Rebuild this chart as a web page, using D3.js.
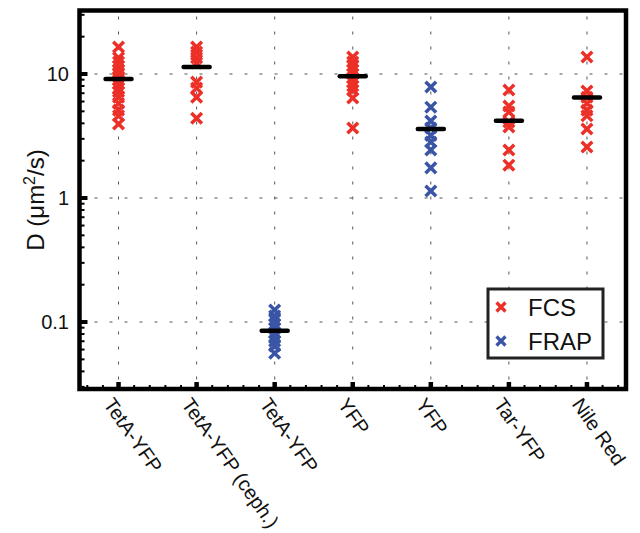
<!DOCTYPE html>
<html>
<head>
<meta charset="utf-8">
<script src="https://cdn.jsdelivr.net/npm/d3@7"></script>
<style>
  body { margin: 0; background: #fff; }
  text { font-family: "Liberation Sans", Arial, sans-serif; fill: #111; }
</style>
</head>
<body>
<script>
// data
const categories = ["TetA-YFP", "TetA-YFP (ceph.)", "TetA-YFP", "YFP", "YFP", "Tar-YFP", "Nile Red"];
const methods = ["FCS", "FCS", "FRAP", "FCS", "FRAP", "FCS", "FCS"];
const values = [
  [16.5, 13.5, 12.5, 11.6, 10.8, 10.2, 9.5, 8.9, 8.3, 7.7, 7.2, 6.5, 5.8, 5.1, 4.6, 3.95],
  [16.5, 15.0, 13.5, 12.3, 8.6, 7.7, 6.5, 4.4],
  [0.125, 0.112, 0.104, 0.096, 0.089, 0.082, 0.076, 0.07, 0.064, 0.056],
  [13.7, 12.5, 11.6, 10.8, 10.0, 9.3, 8.6, 8.0, 7.4, 6.4, 3.67],
  [7.85, 5.4, 4.18, 3.67, 3.2, 2.83, 2.44, 1.75, 1.14],
  [7.43, 5.52, 4.94, 4.1, 3.74, 2.44, 1.84],
  [13.7, 7.3, 6.5, 5.8, 5.1, 4.6, 3.6, 2.58]
];
const medians = [9.1, 11.4, 0.085, 9.6, 3.6, 4.2, 6.45];
const legendItems = ["FCS", "FRAP"];
const yLabels = [0.1, 1, 10];

const w = 640, h = 533;
const pL = 79.5, pR = 626, pT = 10.5, pB = 389;
const colors = { FCS: "#ec3028", FRAP: "#3a55a5" };

const svg = d3.select("body").append("svg")
  .attr("width", w)
  .attr("height", h);

const xScale = d3.scaleLinear()
  .domain([0.5, categories.length + 0.5])
  .range([pL, pR]);

const yScale = d3.scaleLog()
  .domain([Math.pow(10, -1.54), Math.pow(10, 1.512)])
  .range([pB, pT]);

// grid
const grid = svg.append("g")
  .attr("stroke", "#555")
  .attr("stroke-width", 1)
  .attr("stroke-dasharray", "3,12");

grid.selectAll("line.h")
  .data(yLabels)
  .enter().append("line")
  .attr("x1", pL).attr("x2", pR)
  .attr("y1", d => yScale(d)).attr("y2", d => yScale(d));

grid.selectAll("line.v")
  .data(categories)
  .enter().append("line")
  .attr("x1", (d, i) => xScale(i + 1)).attr("x2", (d, i) => xScale(i + 1))
  .attr("y1", pT + 6).attr("y2", pB);

// y ticks (inward)
const yTicks = yScale.ticks();
svg.append("g").selectAll("line")
  .data(yTicks)
  .enter().append("line")
  .attr("x1", pL)
  .attr("x2", d => yLabels.includes(d) ? pL + 8 : pL + 5)
  .attr("y1", d => yScale(d)).attr("y2", d => yScale(d))
  .attr("stroke", "#000")
  .attr("stroke-width", d => yLabels.includes(d) ? 4 : 2);

svg.append("g").selectAll("text")
  .data(yLabels)
  .enter().append("text")
  .attr("x", 69)
  .attr("y", d => yScale(d))
  .attr("dy", "0.36em")
  .attr("text-anchor", "end")
  .style("font-size", "20px")
  .text(d => d);

// x ticks (inward)
const xMinor = d3.range(0.6, categories.length + 0.5, 0.2);
svg.append("g").selectAll("line")
  .data(xMinor)
  .enter().append("line")
  .attr("x1", d => xScale(d)).attr("x2", d => xScale(d))
  .attr("y1", pB).attr("y2", pB - 4)
  .attr("stroke", "#000").attr("stroke-width", 2);

svg.append("g").selectAll("line")
  .data(categories)
  .enter().append("line")
  .attr("x1", (d, i) => xScale(i + 1)).attr("x2", (d, i) => xScale(i + 1))
  .attr("y1", pB).attr("y2", pB - 7)
  .attr("stroke", "#000").attr("stroke-width", 4.5);

svg.append("g").selectAll("text")
  .data(categories)
  .enter().append("text")
  .attr("transform", (d, i) => "translate(" + (xScale(i + 1) - 4) + "," + 396 + ") rotate(55)")
  .attr("dy", "0.72em")
  .style("font-size", "20px")
  .text(d => d);

// markers
const xPath = s => "M" + (-s) + "," + (-s) + "L" + s + "," + s + "M" + (-s) + "," + s + "L" + s + "," + (-s);

const points = [];
values.forEach((vals, i) => vals.forEach(v => points.push({ i: i, v: v, m: methods[i] })));

svg.append("g").selectAll("path")
  .data(points)
  .enter().append("path")
  .attr("transform", d => "translate(" + xScale(d.i + 1) + "," + yScale(d.v) + ")")
  .attr("d", xPath(5.3))
  .attr("stroke", d => colors[d.m])
  .attr("stroke-width", 3.5)
  .attr("fill", "none");

// medians
svg.append("g").selectAll("line")
  .data(medians)
  .enter().append("line")
  .attr("x1", (d, i) => xScale(i + 1) - 13).attr("x2", (d, i) => xScale(i + 1) + 13)
  .attr("y1", d => yScale(d)).attr("y2", d => yScale(d))
  .attr("stroke", "#000")
  .attr("stroke-width", 4.5)
  .attr("stroke-linecap", "round");

// frame
svg.append("rect")
  .attr("x", pL).attr("y", pT)
  .attr("width", pR - pL).attr("height", pB - pT)
  .attr("fill", "none")
  .attr("stroke", "#000")
  .attr("stroke-width", 4.5);

// y label
svg.append("text")
  .attr("transform", "translate(44,200) rotate(-90)")
  .attr("text-anchor", "middle")
  .style("font-size", "24px")
  .html("D (μm<tspan dy='-9' style='font-size:16px'>2</tspan><tspan dy='9'>/s)</tspan>");

// legend
const legend = svg.append("g");
legend.append("rect")
  .attr("x", 488).attr("y", 289)
  .attr("width", 115).attr("height", 69)
  .attr("fill", "#fff")
  .attr("stroke", "#222")
  .attr("stroke-width", 3);

legend.selectAll("path")
  .data(legendItems)
  .enter().append("path")
  .attr("transform", (d, i) => "translate(501," + (307 + i * 34) + ")")
  .attr("d", xPath(4.5))
  .attr("stroke", d => colors[d])
  .attr("stroke-width", 3.2)
  .attr("fill", "none");

legend.selectAll("text")
  .data(legendItems)
  .enter().append("text")
  .attr("x", 528)
  .attr("y", (d, i) => 307 + i * 34)
  .attr("dy", "0.36em")
  .style("font-size", "24px")
  .text(d => d);
</script>
</body>
</html>
